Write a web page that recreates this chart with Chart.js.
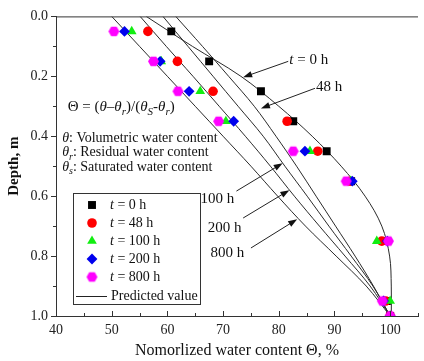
<!DOCTYPE html>
<html><head><meta charset="utf-8">
<script src="https://cdn.jsdelivr.net/npm/chart.js@4.4.1/dist/chart.umd.min.js"></script>
<style>html,body{margin:0;padding:0;background:#fff;}#wrap{width:424px;height:361px;position:relative;}</style>
</head><body><div id="wrap"><canvas id="c" width="424" height="361"></canvas></div>
<script>
// ---------- data ----------
const depthObs = [0.05, 0.15, 0.25, 0.35, 0.45, 0.55, 0.75, 0.95, 1.0];
const obs0   = [60.7, 67.5, 76.8, 82.6, 88.6, 93.0, 99.0, 99.4, 100.0];
const obs48  = [56.5, 61.8, 68.2, 81.5, 87.0, 92.8, 98.5, 99.2, 100.0];
const obs100 = [53.6, 58.9, 65.9, 70.5, 85.6, 92.9, 97.6, 100.0, 100.0];
const obs200 = [52.3, 58.7, 63.9, 71.9, 84.7, 93.2, 99.5, 98.8, 100.0];
const obs800 = [50.4, 57.5, 61.9, 69.2, 82.6, 92.1, 99.7, 98.6, 100.0];

const depthPred = [0, 0.1, 0.2, 0.3, 0.4, 0.5, 0.6, 0.7, 0.8, 0.9, 1.0];
const pred0   = [56.2, 64.5, 73.2, 80.0, 86.0, 91.2, 95.5, 98.5, 99.9, 100.2, 100.2];
const pred48  = [61.5, 66.3, 71.0, 75.6, 79.5, 83.2, 86.7, 90.2, 93.7, 97.0, 100.0];
const pred100 = [59.2, 63.7, 68.2, 72.7, 77.2, 81.1, 85.1, 89.0, 93.0, 96.9, 100.0];
const pred200 = [55.1, 59.8, 64.6, 69.3, 74.0, 78.5, 82.8, 87.3, 91.9, 96.4, 100.0];
const pred800 = [50.0, 55.0, 60.0, 65.0, 70.0, 75.0, 79.8, 84.8, 90.3, 95.7, 100.0];

const seriesNames = ['0 h', '48 h', '100 h', '200 h', '800 h'];
const xTickLabels = [40, 50, 60, 70, 80, 90, 100];
const yTickLabels = ['0.0', '0.2', '0.4', '0.6', '0.8', '1.0'];

// arrow annotations: [label, tipX, tipDepth, startX, startDepth, labelX, labelDepth, align]
const arrowNotes = [
  ['t = 0 h', 73.6, 0.203, 81.7, 0.150, 81.9, 0.147, 'left'],
  ['48 h',    76.8, 0.307, 86.5, 0.240, 86.7, 0.237, 'left'],
  ['100 h',   80.7, 0.490, 72.4, 0.583, 72.0, 0.610, 'right'],
  ['200 h',   81.9, 0.580, 73.6, 0.673, 73.3, 0.707, 'right'],
  ['800 h',   83.3, 0.677, 75.0, 0.773, 73.8, 0.790, 'right']
];

// ---------- helpers ----------
const SERIF = '"Liberation Serif", "Times New Roman", serif';
function pts(xs, ds) { return xs.map((v, i) => ({x: v, y: ds[i]})); }
function hexagon(color, r) {
  const c = document.createElement('canvas');
  const s = Math.ceil(r * 2 + 2);
  c.width = s; c.height = s;
  const g = c.getContext('2d');
  g.fillStyle = color;
  g.beginPath();
  for (let i = 0; i < 6; i++) {
    const a = Math.PI / 3 * i;
    const px = s / 2 + r * Math.cos(a), py = s / 2 + r * Math.sin(a);
    i ? g.lineTo(px, py) : g.moveTo(px, py);
  }
  g.closePath(); g.fill();
  return c;
}
const hexImg = hexagon('#ff00ff', 5.5);

const obsStyles = [
  {c: '#000000', s: 'rect', r: 5.6},
  {c: '#ff0000', s: 'circle', r: 4.8},
  {c: '#11ee11', s: 'triangle', r: 5.6},
  {c: '#0000ee', s: 'rectRot', r: 5.4},
  {c: '#ff00ff', s: hexImg, r: 5.5}
];
const obsData = [obs0, obs48, obs100, obs200, obs800];
const predData = [pred0, pred48, pred100, pred200, pred800];

const datasets = [];
predData.forEach((p, i) => datasets.push({
  label: 'Predicted ' + seriesNames[i], data: pts(p, depthPred), showLine: true,
  borderColor: '#2a2a2a', borderWidth: 1, pointRadius: 0, tension: 0.35, fill: false, order: 20
}));
obsData.forEach((o, i) => datasets.push({
  label: 't = ' + seriesNames[i], data: pts(o, depthObs), showLine: false,
  backgroundColor: obsStyles[i].c, borderColor: obsStyles[i].c, borderWidth: 0,
  pointStyle: obsStyles[i].s, pointRadius: obsStyles[i].r, order: 10 - i
}));

function richText(ctx, x, y, parts, size, align) {
  let w = 0;
  const items = parts.map(p => {
    const fs = p.sub ? Math.round(size * 0.72) : size;
    const font = (p.it ? 'italic ' : '') + fs + 'px ' + SERIF;
    ctx.font = font;
    const mw = ctx.measureText(p.t).width;
    const it = {t: p.t, font, w: mw, dy: p.sub ? size * 0.3 : 0};
    w += mw;
    return it;
  });
  let cx = align === 'right' ? x - w : x;
  ctx.textAlign = 'left';
  ctx.textBaseline = 'middle';
  items.forEach(it => { ctx.font = it.font; ctx.fillText(it.t, cx, y + it.dy); cx += it.w; });
}
function tLabel(txt) {
  if (txt.startsWith('t')) return [{t: 't', it: true}, {t: txt.slice(1)}];
  return [{t: txt}];
}

const decor = {
  id: 'decor',
  afterDraw(chart) {
    const ctx = chart.ctx, xs = chart.scales.x, ys = chart.scales.y, a = chart.chartArea;
    ctx.save();
    ctx.strokeStyle = '#333'; ctx.fillStyle = '#222'; ctx.lineWidth = 1;
    // top border
    ctx.beginPath(); ctx.moveTo(a.left, a.top + 0.5); ctx.lineTo(a.right, a.top + 0.5); ctx.stroke();
    // x ticks (inward)
    for (let v = 40; v <= 105; v += 5) {
      const px = Math.round(xs.getPixelForValue(v)) + 0.5;
      const len = v % 10 === 0 ? 5 : 3;
      ctx.beginPath(); ctx.moveTo(px, a.bottom); ctx.lineTo(px, a.bottom - len); ctx.stroke();
    }
    // y ticks (outward)
    for (let k = 0; k <= 10; k++) {
      const py = Math.round(ys.getPixelForValue(k / 10)) + 0.5;
      const len = k % 2 === 0 ? 5 : 3;
      ctx.beginPath(); ctx.moveTo(a.left, py); ctx.lineTo(a.left - len, py); ctx.stroke();
    }
    // formula and definitions
    ctx.fillStyle = '#111';
    richText(ctx, xs.getPixelForValue(42.1), ys.getPixelForValue(0.303), [
      {t: 'Θ = ('}, {t: 'θ', it: true}, {t: '–'}, {t: 'θ', it: true}, {t: 'r', it: true, sub: true},
      {t: ')/('}, {t: 'θ', it: true}, {t: 'S', it: true, sub: true}, {t: '-'}, {t: 'θ', it: true},
      {t: 'r', it: true, sub: true}, {t: ')'}], 15);
    richText(ctx, xs.getPixelForValue(41.1), ys.getPixelForValue(0.407),
      [{t: 'θ', it: true}, {t: ': Volumetric water content'}], 14);
    richText(ctx, xs.getPixelForValue(41.1), ys.getPixelForValue(0.455),
      [{t: 'θ', it: true}, {t: 'r', it: true, sub: true}, {t: ': Residual water content'}], 14);
    richText(ctx, xs.getPixelForValue(41.1), ys.getPixelForValue(0.503),
      [{t: 'θ', it: true}, {t: 's', it: true, sub: true}, {t: ': Saturated water content'}], 14);
    // arrows
    arrowNotes.forEach(n => {
      const tx = xs.getPixelForValue(n[1]), ty = ys.getPixelForValue(n[2]);
      const sx = xs.getPixelForValue(n[3]), sy = ys.getPixelForValue(n[4]);
      const ang = Math.atan2(ty - sy, tx - sx);
      const L = 9, W = 3.2;
      ctx.strokeStyle = '#222';
      ctx.beginPath(); ctx.moveTo(sx, sy); ctx.lineTo(tx - Math.cos(ang) * L * 0.8, ty - Math.sin(ang) * L * 0.8); ctx.stroke();
      ctx.beginPath();
      ctx.moveTo(tx, ty);
      ctx.lineTo(tx - L * Math.cos(ang) + W * Math.sin(ang), ty - L * Math.sin(ang) - W * Math.cos(ang));
      ctx.lineTo(tx - L * Math.cos(ang) - W * Math.sin(ang), ty - L * Math.sin(ang) + W * Math.cos(ang));
      ctx.closePath(); ctx.fillStyle = '#111'; ctx.fill();
      richText(ctx, xs.getPixelForValue(n[5]), ys.getPixelForValue(n[6]), tLabel(n[0]), 15, n[7]);
    });
    // legend box
    const lx = 73.5, ly = 193.5, lw = 127, lh = 111;
    ctx.strokeStyle = '#333';
    ctx.strokeRect(lx, ly, lw, lh);
    const rowY = [205, 223, 241, 259, 277];
    obsStyles.forEach((s, i) => {
      ctx.fillStyle = s.c; ctx.strokeStyle = s.c;
      Chart.helpers.drawPoint(ctx, {pointStyle: s.s, radius: s.r, borderWidth: 0, rotation: 0}, 92, rowY[i]);
      ctx.fillStyle = '#111';
      richText(ctx, 110, rowY[i], tLabel('t = ' + seriesNames[i]), 14);
    });
    ctx.strokeStyle = '#222';
    ctx.beginPath(); ctx.moveTo(76, 296.5); ctx.lineTo(107, 296.5); ctx.stroke();
    ctx.fillStyle = '#111';
    richText(ctx, 111, 296, [{t: 'Predicted value'}], 14);
    ctx.restore();
  }
};

new Chart(document.getElementById('c'), {
  type: 'scatter',
  data: {datasets},
  options: {
    responsive: false, animation: false, devicePixelRatio: 1,
    layout: {padding: {top: 16, right: 0, left: 0, bottom: 0}},
    plugins: {legend: {display: false}, tooltip: {enabled: false}},
    scales: {
      x: {
        type: 'linear', min: 40, max: 105, position: 'bottom',
        grid: {display: false, drawTicks: false},
        border: {display: true, color: '#333', width: 1},
        ticks: {stepSize: 5, autoSkip: false, maxRotation: 0, padding: 6, color: '#222',
          font: {family: SERIF, size: 14},
          callback: v => xTickLabels.includes(v) ? String(v) : ''},
        title: {display: true, text: 'Nomorlized water content Θ, %', color: '#111',
          font: {family: SERIF, size: 16}, padding: {top: 0, bottom: 1}},
        afterFit: s => { s.height = 45; }
      },
      y: {
        type: 'linear', min: 0, max: 1, reverse: true,
        grid: {display: false, drawTicks: false},
        border: {display: true, color: '#333', width: 1},
        ticks: {stepSize: 0.1, autoSkip: false, padding: 8, color: '#222',
          font: {family: SERIF, size: 14},
          callback: v => { const s = (Math.round(v * 10) / 10).toFixed(1); return yTickLabels.includes(s) ? s : ''; }},
        title: {display: true, text: 'Depth, m', color: '#111',
          font: {family: SERIF, size: 15, weight: 'bold'}, padding: {top: 5, bottom: 0}},
        afterFit: s => { s.width = 56; }
      }
    }
  },
  plugins: [decor]
});
</script>
</body></html>
